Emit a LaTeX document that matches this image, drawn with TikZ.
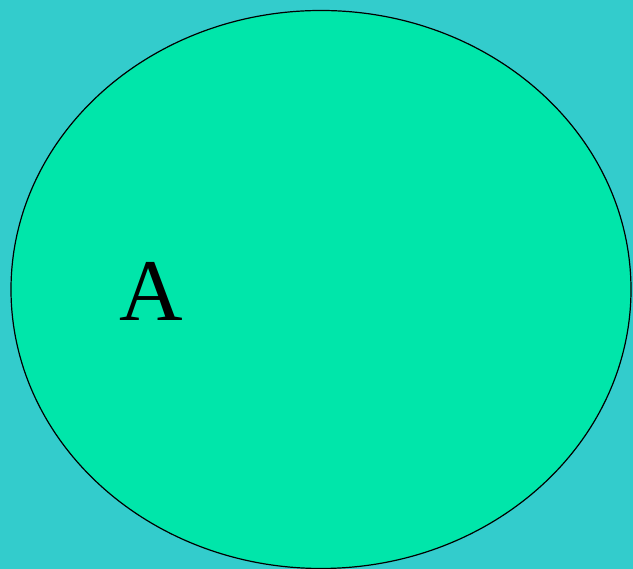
\documentclass[tikz,border=0pt]{standalone}
\usepackage{fontspec}
\setmainfont{Liberation Serif}
\definecolor{bgteal}{HTML}{33CCCC}
\definecolor{ellgreen}{HTML}{00E6AA}
\begin{document}
\begin{tikzpicture}[x=1pt,y=1pt]
\fill[bgteal] (0,0) rectangle (633,569);
\useasboundingbox (0,0) rectangle (633,569);
\draw[fill=ellgreen, line width=1.2pt] (321,279.5) ellipse [x radius=310, y radius=279];
\node[anchor=base, inner sep=0pt, font=\fontsize{88}{90}\selectfont] (labelA) at (151,248) {A};
\end{tikzpicture}
\end{document}
